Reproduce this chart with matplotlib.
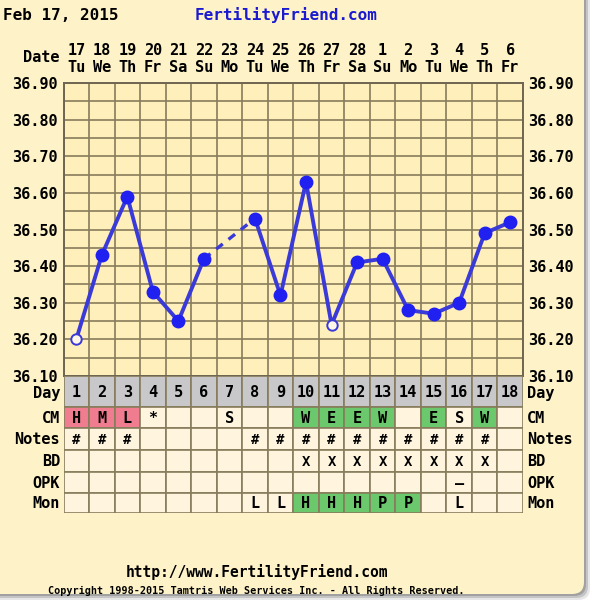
import matplotlib
matplotlib.use("Agg")
import matplotlib.pyplot as plt
from matplotlib.patches import FancyBboxPatch, Rectangle

# ---- chart data ----
cycle_days = list(range(1, 19))
dates = ['17', '18', '19', '20', '21', '22', '23', '24', '25', '26', '27', '28',
         '1', '2', '3', '4', '5', '6']
weekdays = ['Tu', 'We', 'Th', 'Fr', 'Sa', 'Su', 'Mo', 'Tu', 'We', 'Th', 'Fr', 'Sa',
            'Su', 'Mo', 'Tu', 'We', 'Th', 'Fr']
temps = [36.20, 36.43, 36.59, 36.33, 36.25, 36.42, None, 36.53, 36.32, 36.63,
         36.24, 36.41, 36.42, 36.28, 36.27, 36.30, 36.49, 36.52]
open_days = [1, 11]
y_ticks = [36.10, 36.20, 36.30, 36.40, 36.50, 36.60, 36.70, 36.80, 36.90]

cm = ['H', 'M', 'L', '*', '', '', 'S', '', '', 'W', 'E', 'E', 'W', '', 'E', 'S', 'W', '']
notes = ['#', '#', '#', '', '', '', '', '#', '#', '#', '#', '#', '#', '#', '#', '#', '#', '']
bd = ['', '', '', '', '', '', '', '', '', 'X', 'X', 'X', 'X', 'X', 'X', 'X', 'X', '']
opk = ['', '', '', '', '', '', '', '', '', '', '', '', '', '', '', '\u2013', '', '']
mon = ['', '', '', '', '', '', '', 'L', 'L', 'H', 'H', 'H', 'P', 'P', '', 'L', '', '']
row_names = ['CM', 'Notes', 'BD', 'OPK', 'Mon']
row_values = [cm, notes, bd, opk, mon]
pink_codes = {'CM': ['H', 'M', 'L'], 'Mon': []}
green_codes = {'CM': ['W', 'E'], 'Mon': ['H', 'P']}

W, H = 593, 600
PANEL = '#FEF3C8'
PLOTBG = '#FFEFBA'
CELL = '#FFF5DF'
GRID = '#877C5C'
BLUE = '#2020F0'
LINE = '#3A3AD8'
PINK = '#F07C90'
GREEN = '#6CC86C'
GRAY = '#C8C8CA'
FONT = 'DejaVu Sans Mono'


def px(x0, y0, x1, y1):
    return [x0 / W, 1 - y1 / H, (x1 - x0) / W, (y1 - y0) / H]


fig = plt.figure(figsize=(W / 100, H / 100), dpi=100, facecolor='white')

# background panel with shadow
bg = fig.add_axes([0, 0, 1, 1], zorder=-10)
bg.set_xlim(0, W)
bg.set_ylim(H, 0)
bg.axis('off')
for off, a in [(6, 0.15), (4, 0.25), (2, 0.35)]:
    bg.add_patch(FancyBboxPatch((-20 + off, -20 + off), 604, 614,
                                boxstyle='round,pad=0,rounding_size=12',
                                fc='#606060', ec='none', alpha=a))
bg.add_patch(FancyBboxPatch((-20, -20), 604, 614, boxstyle='round,pad=0,rounding_size=12',
                            fc=PANEL, ec='none'))

# ---- temperature chart ----
GX0, GX1, GY0, GY1 = 63.5, 523, 83, 376
ax = fig.add_axes(px(GX0, GY0, GX1, GY1))
ax.set_facecolor(PLOTBG)
ax.set_xlim(0.5, 18.5)
ax.set_ylim(36.10, 36.90)

ax.set_xticks(cycle_days)
ax.set_xticklabels([f'{d}\n{w}' for d, w in zip(dates, weekdays)],
                   fontfamily=FONT, fontweight='bold', fontsize=11, linespacing=1.15)
ax.set_xticks([d + 0.5 for d in range(0, 19)], minor=True)
ax.xaxis.tick_top()
ax.set_yticks(y_ticks)
ax.set_yticklabels([f'{v:.2f}' for v in y_ticks], fontfamily=FONT,
                   fontweight='bold', fontsize=11)
ax.set_yticks([v + 0.05 for v in y_ticks[:-1]], minor=True)
ax.tick_params(which='both', length=0)
ax.tick_params(axis='x', pad=6)
ax.tick_params(axis='y', pad=4, labelright=True)
ax.grid(True, which='minor', axis='x', color=GRID, lw=1.2)
ax.grid(True, which='both', axis='y', color=GRID, lw=1.2)
for s in ax.spines.values():
    s.set_color('#6E6650')
    s.set_linewidth(1.4)

# solid runs split at missing temps, dashed across the gap
runs, cur = [], []
for d, t in zip(cycle_days, temps):
    if t is None:
        runs.append(cur)
        cur = []
    else:
        cur.append((d, t))
runs.append(cur)
for r in runs:
    ax.plot([p[0] for p in r], [p[1] for p in r], color=LINE, lw=2.8, zorder=3)
for a_run, b_run in zip(runs[:-1], runs[1:]):
    (d0, t0), (d1, t1) = a_run[-1], b_run[0]
    ax.plot([d0, d1], [t0, t1], color=LINE, lw=2.4, ls=(0, (2.5, 2.2)), zorder=3)

fd = [d for d, t in zip(cycle_days, temps) if t is not None and d not in open_days]
ft = [t for d, t in zip(cycle_days, temps) if t is not None and d not in open_days]
ax.plot(fd, ft, 'o', color=BLUE, ms=9, zorder=4)
od = [d for d in open_days]
ot = [temps[d - 1] for d in open_days]
ax.plot(od, ot, 'o', mfc='#FFF8E8', mec=LINE, mew=1.4, ms=7.5, zorder=4)

# ---- data table ----
row_h = [31, 21, 22, 22, 21, 20]
TY1 = GY1 + sum(row_h)
tx = fig.add_axes(px(GX0, GY1, GX1, TY1))
tx.set_xlim(0.5, 18.5)
tx.set_ylim(sum(row_h), 0)
tx.axis('off')

edges = [0]
for h in row_h:
    edges.append(edges[-1] + h)

for d in cycle_days:
    tx.add_patch(Rectangle((d - 0.5, 0), 1, row_h[0], fc=GRAY, ec=GRID, lw=1.2))
    tx.text(d, row_h[0] / 2 + 1, str(d), ha='center', va='center', fontfamily=FONT,
            fontweight='bold', fontsize=11)
for ri, (name, vals) in enumerate(zip(row_names, row_values)):
    y0 = edges[ri + 1]
    h = row_h[ri + 1]
    for d, v in zip(cycle_days, vals):
        fc = CELL
        if v and v in pink_codes.get(name, []):
            fc = PINK
        elif v and v in green_codes.get(name, []):
            fc = GREEN
        tx.add_patch(Rectangle((d - 0.5, y0), 1, h, fc=fc, ec=GRID, lw=1.2))
        if v:
            tx.text(d, y0 + h / 2 + 1, v, ha='center', va='center', fontfamily=FONT,
                    fontweight='bold', fontsize=11 if v not in ('#', 'X') else 10)

# row labels both sides
label_ys = [GY1 + row_h[0] / 2 + 2] + [GY1 + edges[i + 1] + row_h[i + 1] / 2 + 1
                                       for i in range(len(row_names))]
for lab, yy in zip(['Day'] + row_names, label_ys):
    fig.text(60 / W, 1 - yy / H, lab, ha='right', va='center', fontfamily=FONT,
             fontweight='bold', fontsize=11)
    fig.text(527 / W, 1 - yy / H, lab, ha='left', va='center', fontfamily=FONT,
             fontweight='bold', fontsize=11)

fig.text(60 / W, 1 - 58 / H, 'Date', ha='right', va='center', fontfamily=FONT,
         fontweight='bold', fontsize=11)

# header and footer
fig.text(3 / W, 1 - 15 / H, 'Feb 17, 2015', ha='left', va='center', fontfamily=FONT,
         fontweight='bold', fontsize=11.5)
fig.text(195 / W, 1 - 15 / H, 'FertilityFriend.com', ha='left', va='center',
         fontfamily=FONT, fontweight='bold', fontsize=11.5, color='#1A1AD0')
fig.text(257 / W, 1 - 572 / H, 'http://www.FertilityFriend.com', ha='center',
         va='center', fontfamily=FONT, fontweight='bold', fontsize=10.5)
fig.text(256 / W, 1 - 591 / H,
         'Copyright 1998-2015 Tamtris Web Services Inc. - All Rights Reserved.',
         ha='center', va='center', fontfamily=FONT, fontweight='bold', fontsize=7.3)

fig.savefig('out.png', dpi=100, facecolor='white')
